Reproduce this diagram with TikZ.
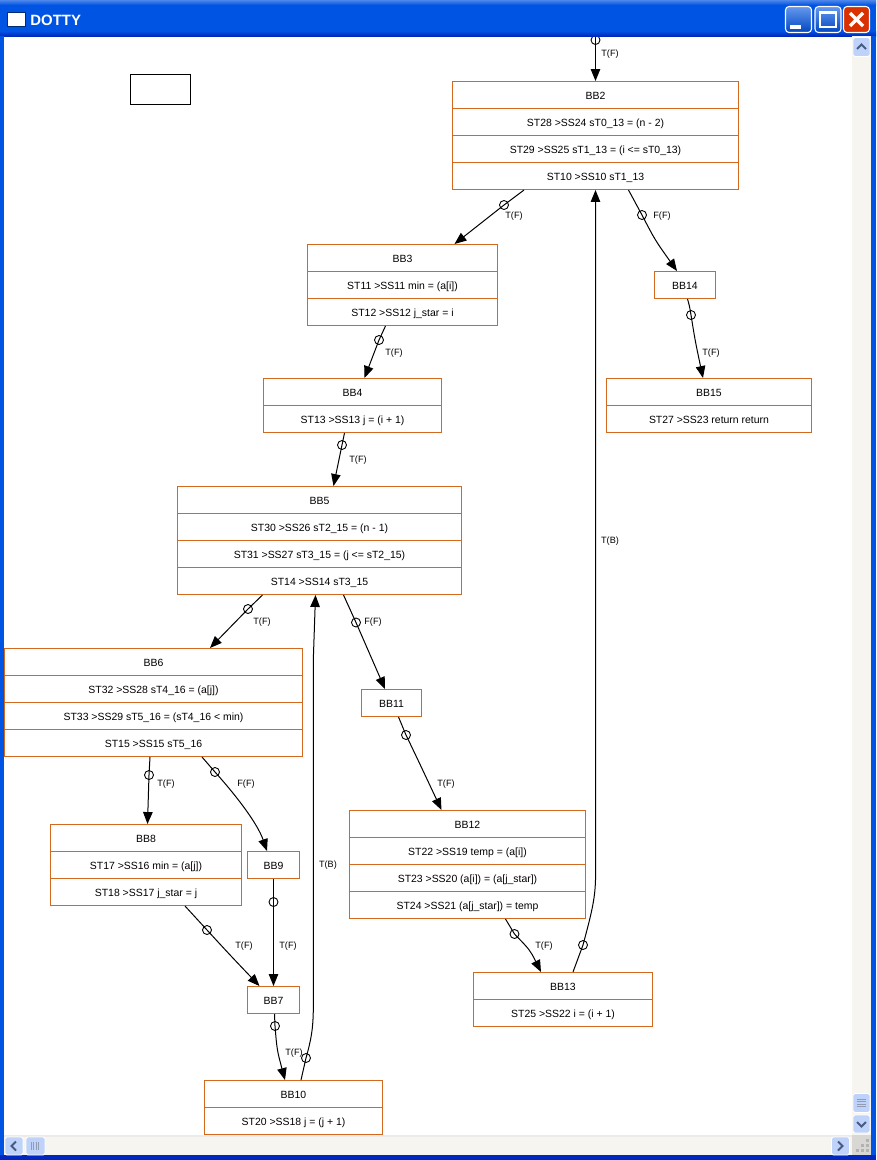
\documentclass[tikz,border=0pt]{standalone}
\usepackage{fontspec}
\setmainfont{Liberation Sans}
\usetikzlibrary{arrows.meta,calc}
\definecolor{bbEdge}{RGB}{210,105,30}
\definecolor{winBlue}{RGB}{0,84,227}
\definecolor{winDark}{RGB}{0,40,190}
\definecolor{barTrack}{RGB}{246,245,240}
\definecolor{btnFill}{RGB}{190,210,250}
\definecolor{btnMark}{RGB}{70,90,130}
\tikzset{
	bbrow/.style={draw=bbEdge, line width=0.569pt, minimum height=0.54cm, inner sep=0pt, text height=6pt, text depth=1pt},
	port/.style={draw, circle, line width=0.5pt, minimum size=0.18cm, inner sep=0pt},
	flow/.style={line width=0.569pt, -{Triangle[length=6.8pt, width=5.4pt]}},
	elabel/.style={inner sep=0pt, font=\fontsize{5.2}{6}\selectfont},
	sbtn/.style={draw=white, line width=0.5pt, rounded corners=1pt, fill=btnFill},
	smark/.style={draw=btnMark, line width=1.1pt},
	tbtn/.style={draw=white, line width=0.6pt, rounded corners=2pt, top color=winBlue!60!white, bottom color=winBlue!85!black}
}
\begin{document}
\begin{tikzpicture}[x=0.02cm, y=-0.02cm, font=\fontsize{5.95}{7}\selectfont]
	\useasboundingbox (0,0) rectangle (876,1160);
	% basic blocks, one row is 27 pixels high
	\foreach \i/\lab in {0/BB2, 1/ST28 >SS24 sT0\_13 = (n - 2), 2/ST29 >SS25 sT1\_13 = (i <= sT0\_13), 3/ST10 >SS10 sT1\_13}
		\node[bbrow, minimum width=5.72cm] (bb2-\i) at (595.5, {95+27*\i}) {\lab};
	\foreach \i/\lab in {0/BB3, 1/ST11 >SS11 min = (a[i]), 2/ST12 >SS12 j\_star = i}
		\node[bbrow, minimum width=3.8cm] (bb3-\i) at (402.5, {258+27*\i}) {\lab};
	\node[bbrow, minimum width=1.22cm] (bb14-0) at (685, 285) {BB14};
	\foreach \i/\lab in {0/BB15, 1/ST27 >SS23 return return}
		\node[bbrow, minimum width=4.1cm] (bb15-\i) at (709, {392+27*\i}) {\lab};
	\foreach \i/\lab in {0/BB4, 1/ST13 >SS13 j = (i + 1)}
		\node[bbrow, minimum width=3.56cm] (bb4-\i) at (352.5, {392+27*\i}) {\lab};
	\foreach \i/\lab in {0/BB5, 1/ST30 >SS26 sT2\_15 = (n - 1), 2/ST31 >SS27 sT3\_15 = (j <= sT2\_15), 3/ST14 >SS14 sT3\_15}
		\node[bbrow, minimum width=5.68cm] (bb5-\i) at (319.5, {500+27*\i}) {\lab};
	\foreach \i/\lab in {0/BB6, 1/ST32 >SS28 sT4\_16 = (a[j]), 2/ST33 >SS29 sT5\_16 = (sT4\_16 < min), 3/ST15 >SS15 sT5\_16}
		\node[bbrow, minimum width=5.96cm] (bb6-\i) at (153.5, {662+27*\i}) {\lab};
	\node[bbrow, minimum width=1.2cm] (bb11-0) at (391.5, 703) {BB11};
	\foreach \i/\lab in {0/BB12, 1/ST22 >SS19 temp = (a[i]), 2/ST23 >SS20 (a[i]) = (a[j\_star]), 3/ST24 >SS21 (a[j\_star]) = temp}
		\node[bbrow, minimum width=4.72cm] (bb12-\i) at (467.5, {824+27*\i}) {\lab};
	\foreach \i/\lab in {0/BB8, 1/ST17 >SS16 min = (a[j]), 2/ST18 >SS17 j\_star = j}
		\node[bbrow, minimum width=3.82cm] (bb8-\i) at (146, {838+27*\i}) {\lab};
	\node[bbrow, minimum width=1.04cm] (bb9-0) at (273.5, 865) {BB9};
	\node[bbrow, minimum width=1.04cm] (bb7-0) at (273.5, 1000) {BB7};
	\foreach \i/\lab in {0/BB13, 1/ST25 >SS22 i = (i + 1)}
		\node[bbrow, minimum width=3.58cm] (bb13-\i) at (563, {986+27*\i}) {\lab};
	\foreach \i/\lab in {0/BB10, 1/ST20 >SS18 j = (j + 1)}
		\node[bbrow, minimum width=3.56cm] (bb10-\i) at (293.5, {1094+27*\i}) {\lab};
	% the empty box at the top left
	\node[draw, line width=0.569pt, minimum width=1.2cm, minimum height=0.6cm, inner sep=0pt] (blank) at (160.5, 89.5) {};
	% ports on the edges
	\foreach \nm/\px/\py in {p1/595.5/40, p2/504/205, p3/642/215, p4/691/315, p5/379/340, p6/342/445,
			p7/248/609, p8/356/622.5, p9/406/735, p10/149/775, p11/215/772, p12/207/930, p13/273.5/902,
			p14/275/1026, p15/306/1058, p16/514.5/934, p17/583/945}
		\node[port] (\nm) at (\px, \py) {};
	% edges
	\coordinate (entry) at (595.5, 36);
	\draw[flow] (entry) -- (bb2-0.north);
	\draw[flow] ($(bb2-3.south)+(-71.5,0)$) -- (p2.center) -- ($(bb3-0.north)+(52,0)$);
	\draw[flow] ($(bb2-3.south)+(33,0)$) -- (p3.center) .. controls (655,240) .. ($(bb14-0.north)+(-8,0)$);
	\draw[flow] ($(bb14-0.south)+(2.5,0)$) .. controls (689.5,306) .. (p4.center) .. controls (695,340) .. ($(bb15-0.north)+(-6,0)$);
	\draw[flow] ($(bb3-2.south)+(-17,0)$) -- (p5.center) -- ($(bb4-0.north)+(12,0)$);
	\draw[flow] ($(bb4-1.south)+(-8,0)$) -- (p6.center) -- ($(bb5-0.north)+(14,0)$);
	\draw[flow] ($(bb5-3.south)+(-57,0)$) -- (p7.center) -- ($(bb6-0.north)+(56.5,0)$);
	\draw[flow] ($(bb5-3.south)+(24,0)$) -- (p8.center) -- ($(bb11-0.north)+(-6.5,0)$);
	\draw[flow] ($(bb11-0.south)+(7,0)$) -- (p9.center) .. controls (418,760) .. ($(bb12-0.north)+(-26,0)$);
	\draw[flow] ($(bb6-3.south)+(-3.5,0)$) -- (p10.center) -- ($(bb8-0.north)+(1.5,0)$);
	\draw[flow] ($(bb6-3.south)+(48.5,0)$) -- (p11.center) .. controls (240,800) and (258,825) .. ($(bb9-0.north)+(-6.5,0)$);
	\draw[flow] ($(bb8-2.south)+(39,0)$) -- (p12.center) .. controls (230,955) .. ($(bb7-0.north)+(-14,0)$);
	\draw[flow] (bb9-0.south) -- (p13.center) -- (bb7-0.north);
	\draw[flow] ($(bb7-0.south)+(1,0)$) -- (p14.center) .. controls (277,1050) .. ($(bb10-0.north)+(-8.5,0)$);
	\draw[flow] ($(bb10-0.north)+(7.5,0)$) -- (p15.center) .. controls (311,1040) and (313,1030) .. (313.3,1010) -- (313.3,660) -- ($(bb5-3.south)+(-4,0)$);
	\draw[flow] ($(bb12-3.south)+(38,0)$) -- (p16.center) .. controls (530,950) .. ($(bb13-0.north)+(-22,0)$);
	\draw[flow] ($(bb13-0.north)+(10,0)$) -- (p17.center) .. controls (591,915) and (595,900) .. (595.5,880) -- (bb2-3.south);
	% edge labels
	\foreach \nm/\px/\py/\lab in {l1/610/54/T(F), l2/514/216/T(F), l3/662/216/F(F), l4/711/353/T(F), l5/394/353/T(F),
			l6/358/460/T(F), l7/262/622/T(F), l8/373/622/F(F), l9/446/784/T(F), l10/166/784/T(F), l11/246/784/F(F),
			l12/244/946/T(F), l13/288/946/T(F), l14/294/1053/T(F), l15/328/865/T(B), l16/544/946/T(F), l17/610/541/T(B)}
		\node[elabel] (\nm) at (\px, \py) {\lab};
	% window frame on top of the drawing
	\fill[winBlue] (0,0) rectangle (876,36);
	\fill[top color=winBlue!70!white, bottom color=winBlue] (0,0) rectangle (876,5);
	\fill[top color=winBlue, bottom color=winDark] (0,31) rectangle (876,36);
	\fill[winBlue] (0,36) rectangle (4,1160);
	\fill[winBlue] (871,36) rectangle (876,1160);
	\fill[winDark] (0,1155) rectangle (876,1160);
	\node[draw=winBlue!50!black, fill=white, line width=0.5pt, minimum width=0.36cm, minimum height=0.28cm, inner sep=0pt] (winicon) at (16, 19) {};
	\node[white, font=\fontsize{8.5}{9}\bfseries\selectfont, anchor=west, inner sep=0pt] (wintitle) at (30, 20) {DOTTY};
	% caption buttons
	\node[tbtn, minimum width=0.52cm, minimum height=0.52cm, inner sep=0pt] (btnmin) at (798.5, 19.5) {};
	\fill[white] (790,25) rectangle (801,29);
	\node[tbtn, minimum width=0.52cm, minimum height=0.52cm, inner sep=0pt] (btnmax) at (828, 19.5) {};
	\draw[white, line width=1.1pt] (820,12) rectangle (836,27);
	\draw[white, line width=0.4pt, fill=none] (820,13) -- (836,13);
	\node[draw=white, line width=0.6pt, rounded corners=2pt, fill=red!55!orange!85!black, minimum width=0.52cm, minimum height=0.52cm, inner sep=0pt] (btnclose) at (856.5, 19.5) {};
	\draw[white, line width=2pt] (850,13) -- (863,26) (863,13) -- (850,26);
	% scroll bars
	\fill[barTrack] (852,36) rectangle (871,1135);
	\fill[barTrack] (4,1135) rectangle (852,1155);
	\fill[black!8] (4,1135) rectangle (852,1137);
	\fill[black!12!barTrack] (852,1135) rectangle (871,1155);
	\node[sbtn, minimum width=0.34cm, minimum height=0.38cm, inner sep=0pt] (btnup) at (861.5, 47) {};
	\draw[smark] (857,49) -- (861.5,44.5) -- (866,49);
	\node[sbtn, minimum width=0.34cm, minimum height=0.38cm, inner sep=0pt] (btnthumb) at (861.5, 1103) {};
	\foreach \y in {1099,1101.5,1104,1106.5}
		\draw[btnMark!60!white, line width=0.5pt] (857,\y) -- (866,\y);
	\node[sbtn, minimum width=0.34cm, minimum height=0.36cm, inner sep=0pt] (btndown) at (861.5, 1124) {};
	\draw[smark] (857,1122) -- (861.5,1126.5) -- (866,1122);
	\node[sbtn, minimum width=0.36cm, minimum height=0.36cm, inner sep=0pt] (btnright) at (840.5, 1146) {};
	\draw[smark] (838,1141.5) -- (842.5,1146) -- (838,1150.5);
	\node[sbtn, minimum width=0.36cm, minimum height=0.36cm, inner sep=0pt] (btnleft) at (14, 1146) {};
	\draw[smark] (16,1141.5) -- (11.5,1146) -- (16,1150.5);
	\node[sbtn, minimum width=0.38cm, minimum height=0.36cm, inner sep=0pt] (btnhthumb) at (35.5, 1146) {};
	\foreach \x in {31,33.5,36,38.5}
		\draw[btnMark!60!white, line width=0.5pt] (\x,1142) -- (\x,1150);
	% size grip
	\foreach \gx/\gy in {866/1152, 861/1152, 856/1152, 866/1147, 861/1147, 866/1142}
		\fill[black!30] (\gx,\gy) rectangle ++(3,-3);
\end{tikzpicture}
\end{document}
